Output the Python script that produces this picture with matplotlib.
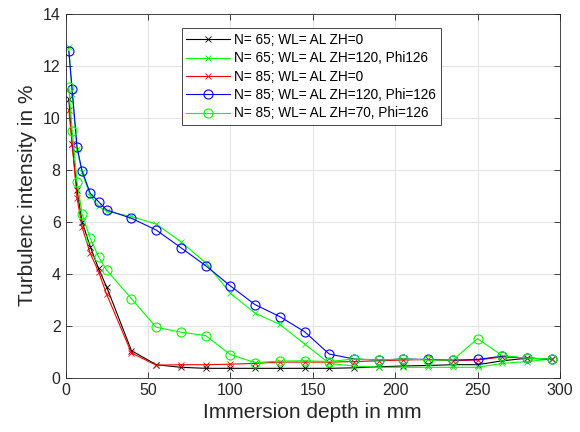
import matplotlib
matplotlib.use("Agg")
import matplotlib.pyplot as plt

plt.rcParams['font.family'] = ['Liberation Sans', 'DejaVu Sans']

# immersion depth in mm
depth = [2, 4, 7, 10, 15, 20, 25, 40, 55, 70, 85, 100, 115, 130, 145,
         160, 175, 190, 205, 220, 235, 250, 265, 280, 295]

# turbulence intensity in %
n65_zh0 = [10.7, 9.0, 7.2, 6.0, 5.04, 4.2, 3.48, 1.04, 0.5, 0.4, 0.36, 0.36, 0.36,
           0.36, 0.36, 0.36, 0.38, 0.42, 0.45, 0.47, 0.5, 0.5, 0.65, 0.75, 0.72]
n65_zh120 = [12.7, 10.9, 8.8, 7.9, 7.0, 6.6, 6.4, 6.2, 5.91, 5.23, 4.42, 3.25, 2.48,
             2.05, 1.3, 0.55, 0.45, 0.4, 0.4, 0.4, 0.4, 0.4, 0.55, 0.62, 0.72]
n85_zh0 = [10.3, 9.0, 6.9, 5.8, 4.78, 4.08, 3.2, 0.95, 0.48, 0.5, 0.5, 0.52, 0.55,
           0.6, 0.6, 0.6, 0.62, 0.65, 0.68, 0.7, 0.65, 0.68, 0.8, 0.75, 0.72]
n85_zh120 = [12.55, 11.1, 8.86, 7.96, 7.09, 6.77, 6.45, 6.13, 5.68, 5.0, 4.31, 3.53,
             2.81, 2.35, 1.77, 0.91, 0.72, 0.68, 0.72, 0.7, 0.68, 0.7, 0.83, 0.75, 0.72]
n85_zh70 = [11.17, 9.5, 7.54, 6.3, 5.36, 4.65, 4.13, 3.04, 1.94, 1.75, 1.62, 0.89,
            0.58, 0.64, 0.65, 0.62, 0.72, 0.68, 0.72, 0.68, 0.68, 1.5, 0.85, 0.75, 0.72]

labels = ['N= 65; WL= AL ZH=0',
          'N= 65; WL= AL ZH=120, Phi126',
          'N= 85; WL= AL ZH=0',
          'N= 85; WL= AL ZH=120, Phi=126',
          'N= 85; WL= AL ZH=70, Phi=126']

fig = plt.figure(figsize=(5.8, 4.32), dpi=100)
ax = fig.add_axes([0.113, 0.1257, 0.8525, 0.8426])

ax.plot(depth, n65_zh0, color='k', marker='x', ms=5, lw=0.8, mew=0.6, label=labels[0])
ax.plot(depth, n65_zh120, color=(0, 1, 0), marker='x', ms=5, lw=0.8, mew=0.6, label=labels[1])
ax.plot(depth, n85_zh0, color=(1, 0, 0), marker='x', ms=5, lw=0.8, mew=0.6, label=labels[2])
ax.plot(depth, n85_zh120, color=(0, 0, 1), marker='o', ms=6.5, mfc='none', lw=0.8, mew=0.8, label=labels[3])
ax.plot(depth, n85_zh70, color=(0, 1, 0), marker='o', ms=6.5, mfc='none', lw=0.8, mew=0.8, label=labels[4])

ax.set_xlim(0, 300)
ax.set_ylim(0, 14)
ax.set_xticks(range(0, 301, 50))
ax.set_yticks(range(0, 15, 2))
ax.grid(True, color='#e3e3e3', lw=0.8)
ax.set_axisbelow(True)
ax.tick_params(direction='in', top=True, right=True, labelsize=11.5, colors='#262626',
               length=4, width=0.6)
for s in ax.spines.values():
    s.set_color('#262626')
    s.set_linewidth(0.6)

ax.set_xlabel('Immersion depth in mm', fontsize=15, color='#262626')
ax.set_ylabel('Turbulenc intensity in %', fontsize=15, color='#262626')

leg = ax.legend(loc='upper left', bbox_to_anchor=(0.235, 0.96), fontsize=9.8,
                fancybox=False, framealpha=1, edgecolor='#262626',
                borderpad=0.35, labelspacing=0.32, handlelength=3.2,
                handletextpad=0.3, borderaxespad=0)
leg.get_frame().set_linewidth(0.6)

fig.savefig('out.png', dpi=100)
